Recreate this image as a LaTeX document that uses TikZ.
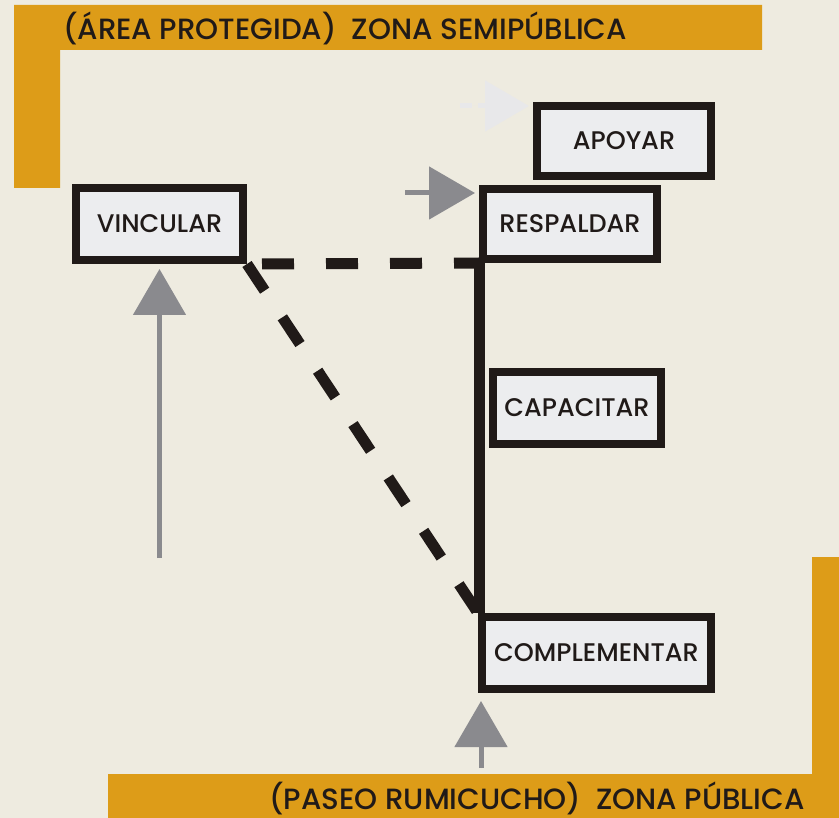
\documentclass[tikz,border=0pt]{standalone}
\usepackage{fontspec}
\setmainfont{Poppins Medium}
\usepackage{tikz}
\usetikzlibrary{positioning,arrows.meta}
\definecolor{fondo}{RGB}{238,235,224}
\definecolor{ocre}{RGB}{221,156,24}
\definecolor{negro}{RGB}{32,26,24}
\definecolor{gris}{RGB}{138,138,142}
\definecolor{grisclaro}{RGB}{232,232,234}
\definecolor{relleno}{RGB}{236,237,239}

\begin{document}
\begin{tikzpicture}[x=1pt,y=-1pt,font=\fontsize{25.5}{30}\selectfont,
  caja/.style={draw=negro,line width=8pt,fill=relleno,minimum height=72pt,inner sep=0pt,text=negro},
  banda/.style={fill=ocre},
  rotulo/.style={font=\fontsize{29.3}{35}\selectfont,inner sep=0pt,text=negro},
  flecha/.style={draw=gris,fill=gris,line width=5pt,-{Triangle[length=46pt,width=52pt]}},
  conexion/.style={draw=negro,line width=11pt},
  punteada/.style={conexion,dash pattern=on 32pt off 32pt}]
  \fill[fondo] (0,0) rectangle (839,818);
  \useasboundingbox (0,0) rectangle (839,818);
  % zonas
  \fill[banda] (14,5) -| (762,50) -| (60,188) -| cycle;
  \fill[banda] (108,774) -| (812,557) -| (839,818) -| cycle;
  \node[rotulo,anchor=base west] (semi) at (63,40) {(ÁREA PROTEGIDA)\ \ ZONA SEMIPÚBLICA};
  \node[rotulo,anchor=base east] (publica) at (805,809) {(PASEO RUMICUCHO)\ \ ZONA PÚBLICA};
  % acciones
  \node[caja,minimum width=167pt] (vinc) at (159.5,224) {VINCULAR};
  \node[caja,minimum width=174pt,minimum height=70pt] (apoyar) at (624,141) {APOYAR};
  \node[caja,minimum width=174pt,minimum height=70pt] (resp) at (570,224) {RESPALDAR};
  \node[caja,minimum width=168pt] (capa) at (577,408) {CAPACITAR};
  \node[caja,minimum width=229pt] (compl) at (596.5,653) {COMPLEMENTAR};
  \draw[punteada,dash phase=49pt] (vinc.south east) -- (resp.south west);
  \draw[punteada] (vinc.south east) -- (compl.north west);
  \draw[conexion] (resp.south west) -- (resp.south west |- compl.north);
  % accesos
  \coordinate (pieV) at (159.5,558);
  \coordinate (pieR) at (405,193);
  \coordinate (pieA) at (460,106);
  \coordinate (pieC) at (481,768);
  \draw[flecha] (pieV) -- ([yshift=-5pt]vinc.south);
  \draw[flecha,shorten >=4pt] (pieR) -- (pieR -| resp.west);
  \draw[flecha,shorten >=8pt] (pieC) -- (pieC |- compl.south);
  \draw[flecha,draw=grisclaro,fill=grisclaro,dash pattern=on 12pt off 6pt,
    -{Triangle[length=44pt,width=50pt]},shorten >=4pt] (pieA) -- (pieA -| apoyar.west);
\end{tikzpicture}
\end{document}
